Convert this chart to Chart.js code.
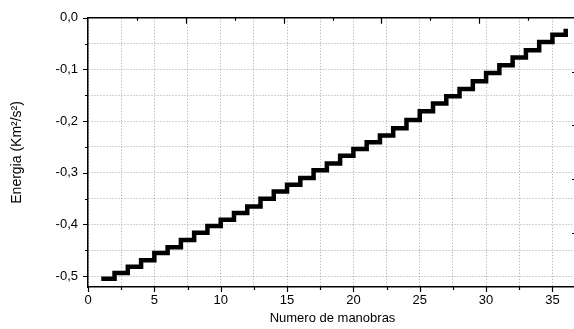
<!DOCTYPE html>
<html>
<head>
<meta charset="utf-8">
<script src="https://cdn.jsdelivr.net/npm/chart.js@4.4.1/dist/chart.umd.min.js"></script>
<style>
  html, body { margin: 0; padding: 0; background: #fff; overflow: hidden; }
  #wrap { width: 577px; height: 329px; }
</style>
</head>
<body>
<div id="wrap"><canvas id="chart" width="577" height="329"></canvas></div>
<script>
// numero de manobras
const MANOBRAS = [1, 2, 3, 4, 5, 6, 7, 8, 9, 10, 11, 12, 13, 14, 15, 16, 17, 18,
  19, 20, 21, 22, 23, 24, 25, 26, 27, 28, 29, 30, 31, 32, 33, 34, 35, 36];
// energia (Km²/s²)
const ENERGIA = [-0.505, -0.494, -0.482, -0.469, -0.455, -0.444, -0.430, -0.416,
  -0.403, -0.391, -0.378, -0.365, -0.350, -0.336, -0.323, -0.310, -0.295, -0.282,
  -0.267, -0.254, -0.241, -0.228, -0.214, -0.198, -0.181, -0.166, -0.152, -0.138,
  -0.123, -0.107, -0.092, -0.077, -0.063, -0.047, -0.033, -0.021];

const X_TICKS = [0, 2.5, 5, 7.5, 10, 12.5, 15, 17.5, 20, 22.5, 25, 27.5, 30, 32.5, 35];
const X_LABELS = [0, 5, 10, 15, 20, 25, 30, 35];
const Y_TICKS = [0, -0.05, -0.1, -0.15, -0.2, -0.25, -0.3, -0.35, -0.4, -0.45, -0.5];
const Y_LABELS = [0, -0.1, -0.2, -0.3, -0.4, -0.5];
// ticks on the unlabelled top and right axes
const TOP_MAJOR = [7.37, 14.74, 22.11, 29.48];
const TOP_MINOR = [3.69, 11.06, 18.43, 25.8, 33.17];
const RIGHT_TICKS = [-0.104, -0.208, -0.3125, -0.417];

const FONT = "'Liberation Sans', Arial, sans-serif";

const frameTicks = {
  id: 'frameTicks',
  afterDraw(chart) {
    const { ctx, chartArea: a, scales } = chart;
    const x = scales.x, y = scales.y;
    ctx.save();
    ctx.strokeStyle = '#000';
    ctx.lineWidth = 1.5;
    ctx.beginPath();
    ctx.moveTo(a.left, a.top);
    ctx.lineTo(a.right, a.top);
    ctx.lineTo(a.right, a.bottom);
    ctx.stroke();

    ctx.lineWidth = 1.2;
    ctx.beginPath();
    X_TICKS.forEach(v => {
      const px = Math.round(x.getPixelForValue(v)) + 0.5;
      const len = X_LABELS.includes(v) ? 5 : 3;
      ctx.moveTo(px, a.bottom);
      ctx.lineTo(px, a.bottom + len);
    });
    Y_TICKS.forEach(v => {
      const py = Math.round(y.getPixelForValue(v)) + 0.5;
      const len = Y_LABELS.includes(v) ? 5 : 3;
      ctx.moveTo(a.left, py);
      ctx.lineTo(a.left - len, py);
    });
    TOP_MAJOR.forEach(v => {
      const px = Math.round(x.getPixelForValue(v)) + 0.5;
      ctx.moveTo(px, a.top);
      ctx.lineTo(px, a.top + 6);
    });
    TOP_MINOR.forEach(v => {
      const px = Math.round(x.getPixelForValue(v)) + 0.5;
      ctx.moveTo(px, a.top);
      ctx.lineTo(px, a.top + 3);
    });
    RIGHT_TICKS.forEach(v => {
      const py = Math.round(y.getPixelForValue(v)) + 0.5;
      ctx.moveTo(a.right, py);
      ctx.lineTo(a.right - 5, py);
    });
    ctx.stroke();
    ctx.restore();
  }
};

const points = MANOBRAS.map((m, i) => ({ x: m, y: ENERGIA[i] }));

new Chart(document.getElementById('chart'), {
  type: 'line',
  data: {
    datasets: [{
      data: points,
      stepped: 'before',
      borderColor: '#000',
      borderWidth: 4.5,
      borderJoinStyle: 'miter',
      pointRadius: 0,
      fill: false
    }]
  },
  options: {
    responsive: false,
    animation: false,
    devicePixelRatio: 1,
    layout: { padding: { top: 16, right: 0, bottom: 0, left: 0 } },
    plugins: {
      legend: { display: false },
      tooltip: { enabled: false }
    },
    scales: {
      x: {
        type: 'linear',
        min: 0,
        max: 36.85,
        afterBuildTicks: scale => { scale.ticks = X_TICKS.map(v => ({ value: v })); },
        afterFit: scale => { scale.height = 42; },
        grid: {
          color: 'rgba(0,0,0,0.35)',
          lineWidth: 1,
          drawTicks: false
        },
        border: { display: true, color: '#000', width: 1.5, dash: [1, 2] },
        ticks: {
          autoSkip: false,
          maxRotation: 0,
          padding: 6,
          color: '#000',
          font: { family: FONT, size: 13 },
          callback: v => X_LABELS.includes(v) ? String(v) : ''
        },
        title: {
          display: true,
          text: 'Numero de manobras',
          color: '#000',
          font: { family: FONT, size: 13 },
          padding: { top: 0, bottom: 3 }
        }
      },
      y: {
        type: 'linear',
        min: -0.521,
        max: 0,
        afterBuildTicks: scale => { scale.ticks = Y_TICKS.map(v => ({ value: v })); },
        afterFit: scale => { scale.width = 88; },
        grid: {
          color: 'rgba(0,0,0,0.35)',
          lineWidth: 1,
          drawTicks: false
        },
        border: { display: true, color: '#000', width: 1.5, dash: [1, 2] },
        ticks: {
          autoSkip: false,
          padding: 10,
          color: '#000',
          font: { family: FONT, size: 13 },
          callback: v => Y_LABELS.includes(v) ? v.toFixed(1).replace('.', ',') : ''
        },
        title: {
          display: true,
          text: 'Energia (Km²/s²)',
          color: '#000',
          font: { family: FONT, size: 14 },
          padding: { top: 9, bottom: 0 }
        }
      }
    }
  },
  plugins: [frameTicks]
});
</script>
</body>
</html>
